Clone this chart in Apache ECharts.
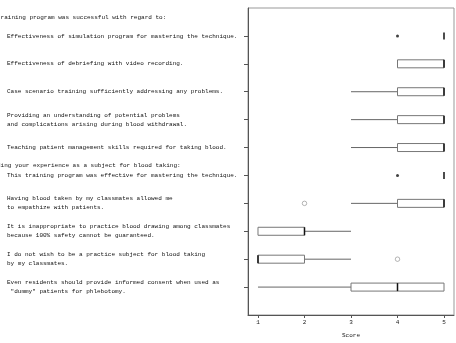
<!DOCTYPE html>
<html>
<head>
<meta charset="utf-8">
<script src="https://cdn.jsdelivr.net/npm/echarts@6/dist/echarts.min.js"></script>
<style>html,body{margin:0;padding:0;background:#fff}#c{width:456px;height:343px}</style>
</head>
<body>
<div id="c"></div>
<script>
var headers = ['This training program was successful with regard to:', 'Regarding your experience as a subject for blood taking:'];
var categories = ['',
  'Effectiveness of simulation program for mastering the technique.',
  'Effectiveness of debriefing with video recording.',
  'Case scenario training sufficiently addressing any problems.',
  'Providing an understanding of potential problems\nand complications arising during blood withdrawal.',
  'Teaching patient management skills required for taking blood.',
  'This training program was effective for mastering the technique.',
  'Having blood taken by my classmates allowed me\nto empathize with patients.',
  'It is inappropriate to practice blood drawing among classmates\nbecause 100% safety cannot be guaranteed.',
  'I do not wish to be a practice subject for blood taking\nby my classmates.',
  'Even residents should provide informed consent when used as\n "dummy" patients for phlebotomy.',
  ''];
// [row, min, q1, median, q3, max]
var boxes = [
  [1, 5, 5, 5, 5, 5],
  [2, 4, 4, 5, 5, 5],
  [3, 3, 4, 5, 5, 5],
  [4, 3, 4, 5, 5, 5],
  [5, 3, 4, 5, 5, 5],
  [6, 5, 5, 5, 5, 5],
  [7, 3, 4, 5, 5, 5],
  [8, 1, 1, 2, 2, 3],
  [9, 1, 1, 1, 2, 3],
  [10, 1, 3, 4, 5, 5]
];
var dotOutliers = [[4, 1], [4, 6]];
var circleOutliers = [[2, 7], [4, 9]];
var xTicks = [1, 2, 3, 4, 5];

var chart = echarts.init(document.getElementById('c'));
var FONT = 'Liberation Mono';
chart.setOption({
  animation: false,
  grid: {left: 248, top: 8, right: 2, bottom: 26, show: true, borderColor: '#999', borderWidth: 1},
  xAxis: {
    type: 'value', min: 0.785, max: 5.215,
    splitLine: {show: false},
    axisLine: {show: true, lineStyle: {color: '#555', width: 1}},
    axisTick: {show: true, length: 3, customValues: xTicks, lineStyle: {color: '#555'}},
    axisLabel: {customValues: xTicks, fontSize: 6, fontFamily: FONT, color: '#222', margin: 4},
    name: 'Score', nameLocation: 'middle', nameGap: 17,
    nameTextStyle: {fontSize: 6, fontFamily: FONT, color: '#222'}
  },
  yAxis: {
    type: 'category', data: categories, inverse: true, boundaryGap: false,
    axisLine: {show: true, lineStyle: {color: '#555', width: 1}},
    axisTick: {show: true, length: 4, interval: function (i, v) { return v !== ''; }, lineStyle: {color: '#555'}},
    axisLabel: {interval: 0, align: 'left', margin: 241, fontSize: 6, fontFamily: FONT, color: '#111', lineHeight: 9},
    splitLine: {show: false}
  },
  graphic: [
    {type: 'text', x: -21, y: 17, style: {text: headers[0], font: '6px "Liberation Mono"', fill: '#111', verticalAlign: 'middle'}},
    {type: 'text', x: -21, y: 165, style: {text: headers[1], font: '6px "Liberation Mono"', fill: '#111', verticalAlign: 'middle'}}
  ],
  series: [
    {
      type: 'custom',
      data: boxes,
      encode: {x: [1, 2, 3, 4, 5], y: 0},
      renderItem: function (params, api) {
        var r = api.value(0);
        var pMin = api.coord([api.value(1), r]);
        var pQ1 = api.coord([api.value(2), r]);
        var pMed = api.coord([api.value(3), r]);
        var pQ3 = api.coord([api.value(4), r]);
        var pMax = api.coord([api.value(5), r]);
        var h = 8, y = pQ1[1];
        var children = [];
        if (pQ1[0] - pMin[0] > 0.5) children.push({type: 'line', shape: {x1: pMin[0], y1: y, x2: pQ1[0], y2: y}, style: {stroke: '#666', lineWidth: 1}});
        if (pMax[0] - pQ3[0] > 0.5) children.push({type: 'line', shape: {x1: pQ3[0], y1: y, x2: pMax[0], y2: y}, style: {stroke: '#666', lineWidth: 1}});
        if (pQ3[0] - pQ1[0] > 0.5) children.push({type: 'rect', shape: {x: pQ1[0], y: y - h / 2, width: pQ3[0] - pQ1[0], height: h}, style: {fill: '#fff', stroke: '#777', lineWidth: 1}});
        var mh = (pQ3[0] - pQ1[0] > 0.5) ? h / 2 : 3.5;
        children.push({type: 'line', shape: {x1: pMed[0], y1: y - mh, x2: pMed[0], y2: y + mh}, style: {stroke: '#111', lineWidth: 1.5}});
        return {type: 'group', children: children};
      },
      z: 2
    },
    {
      type: 'scatter', data: dotOutliers, symbol: 'circle', symbolSize: 3,
      itemStyle: {color: '#111'}, z: 3
    },
    {
      type: 'scatter', data: circleOutliers, symbol: 'circle', symbolSize: 4.5,
      itemStyle: {color: '#fff', borderColor: '#666', borderWidth: 0.6}, z: 3
    }
  ]
});
</script>
</body>
</html>
